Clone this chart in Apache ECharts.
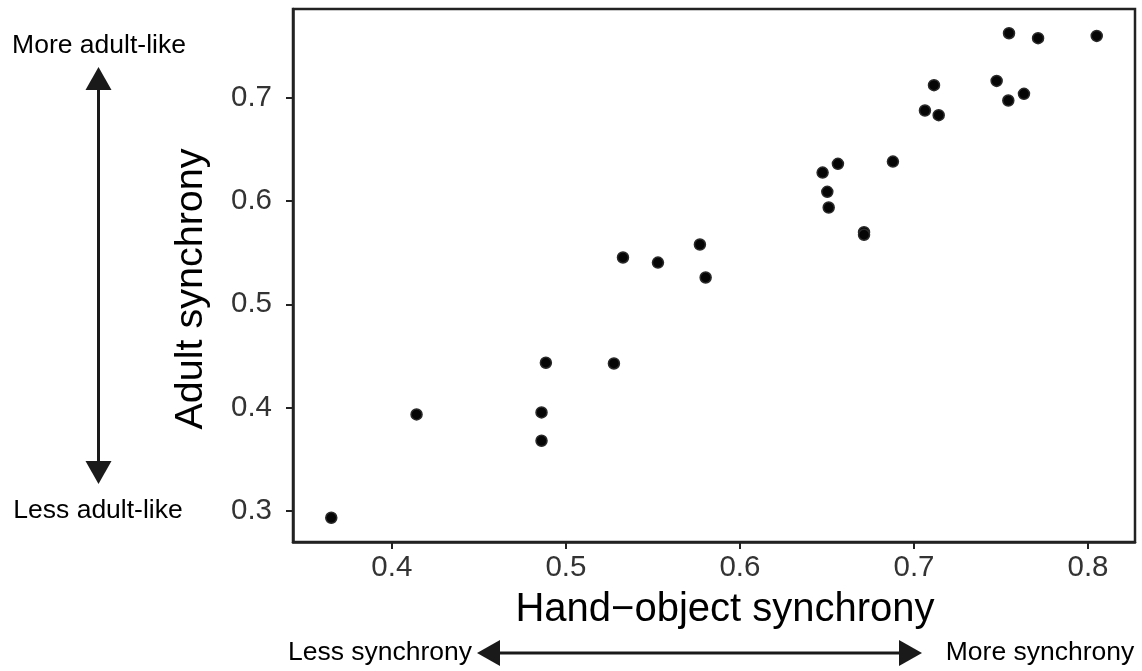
<!DOCTYPE html>
<html>
<head>
<meta charset="utf-8">
<script src="https://cdn.jsdelivr.net/npm/echarts@6/dist/echarts.min.js"></script>
<style>
html,body{margin:0;padding:0;background:#fff;}
#chart{width:1142px;height:671px;}
</style>
</head>
<body>
<div id="chart"></div>
<script>
// Data
var handObject = [0.3652,0.4142,0.4860,0.4860,0.4885,0.5276,0.5328,0.5529,0.5770,0.5803,
                  0.6475,0.6502,0.6510,0.6563,0.6713,0.6713,0.6879,0.7063,0.7115,0.7142,
                  0.7475,0.7542,0.7546,0.7632,0.7713,0.8050];
var adult      = [0.2929,0.3932,0.3676,0.3951,0.4433,0.4426,0.5454,0.5405,0.5580,0.5260,
                  0.6278,0.6091,0.5939,0.6363,0.5700,0.5675,0.6385,0.6880,0.7126,0.6835,
                  0.7167,0.6977,0.7630,0.7042,0.7582,0.7604];
var xTicks = [0.4,0.5,0.6,0.7,0.8];
var yTicks = [0.3,0.4,0.5,0.6,0.7];
var xTitle = 'Hand\u2212object synchrony';
var yTitle = 'Adult synchrony';
var yTopLabel = 'More adult-like';
var yBottomLabel = 'Less adult-like';
var xLeftLabel = 'Less synchrony';
var xRightLabel = 'More synchrony';

function expand(arr){
  var mn = Math.min.apply(null, arr), mx = Math.max.apply(null, arr);
  var p = (mx - mn) * 0.05;
  return [mn - p, mx + p];
}
var xr = expand(handObject), yr = expand(adult);
var points = handObject.map(function(x,i){return [x, adult[i]];});

var FONT = '"Liberation Sans", Arial, Helvetica, sans-serif';
var chart = echarts.init(document.getElementById('chart'));
var ink = '#1a1a1a';

function tri(cx, cy, dir){
  var L = 23, H = 13;
  if (dir==='up') return [[cx,cy],[cx-H,cy+L],[cx+H,cy+L]];
  if (dir==='down') return [[cx,cy],[cx-H,cy-L],[cx+H,cy-L]];
  if (dir==='left') return [[cx,cy],[cx+L,cy-H],[cx+L,cy+H]];
  return [[cx,cy],[cx-L,cy-H],[cx-L,cy+H]];
}

chart.setOption({
  animation:false,
  backgroundColor:'#fff',
  grid:{left:293, right:7, top:9, bottom:129, show:true, borderColor:'#222', borderWidth:2.5, containLabel:false},
  xAxis:{
    type:'value', min:xr[0], max:xr[1],
    axisLine:{show:true, lineStyle:{color:'#222', width:2.5}},
    axisTick:{show:true, length:7, customValues:xTicks, lineStyle:{color:'#222', width:2}},
    axisLabel:{show:true, customValues:xTicks, margin:11, fontSize:29.5, fontFamily:FONT, color:'#333',
      formatter:function(v){return v.toFixed(1);}},
    splitLine:{show:false}
  },
  yAxis:{
    type:'value', min:yr[0], max:yr[1],
    axisLine:{show:true, lineStyle:{color:'#222', width:2.5}},
    axisTick:{show:true, length:7, customValues:yTicks, lineStyle:{color:'#222', width:2}},
    axisLabel:{show:true, customValues:yTicks, margin:21, fontSize:29.5, fontFamily:FONT, color:'#333',
      formatter:function(v){return v.toFixed(1);}},
    splitLine:{show:false}
  },
  series:[{
    type:'scatter',
    data:points,
    symbol:'circle',
    symbolSize:11,
    itemStyle:{color:'#050505', borderColor:'#2a2a2a', borderWidth:1.5, opacity:1}
  }],
  graphic:[
    {type:'text', x:725, y:610, style:{text:xTitle, font:'40px '+FONT, fill:'#000', align:'center', verticalAlign:'middle'}},
    {type:'text', x:191, y:289, rotation:Math.PI/2, style:{text:yTitle, font:'39.5px '+FONT, fill:'#000', align:'center', verticalAlign:'middle'}},
    {type:'text', x:99, y:46, style:{text:yTopLabel, font:'26.5px '+FONT, fill:'#000', align:'center', verticalAlign:'middle'}},
    {type:'text', x:98, y:511, style:{text:yBottomLabel, font:'26.5px '+FONT, fill:'#000', align:'center', verticalAlign:'middle'}},
    {type:'text', x:380, y:653, style:{text:xLeftLabel, font:'26.5px '+FONT, fill:'#000', align:'center', verticalAlign:'middle'}},
    {type:'text', x:1040, y:653, style:{text:xRightLabel, font:'26.5px '+FONT, fill:'#000', align:'center', verticalAlign:'middle'}},
    {type:'line', shape:{x1:98.5, y1:88, x2:98.5, y2:464}, style:{stroke:ink, lineWidth:3}},
    {type:'polygon', shape:{points:tri(98.5,67,'up')}, style:{fill:ink}},
    {type:'polygon', shape:{points:tri(98.5,484,'down')}, style:{fill:ink}},
    {type:'line', shape:{x1:498, y1:653, x2:901, y2:653}, style:{stroke:ink, lineWidth:3}},
    {type:'polygon', shape:{points:tri(477,653,'left')}, style:{fill:ink}},
    {type:'polygon', shape:{points:tri(922,653,'right')}, style:{fill:ink}}
  ]
});
</script>
</body>
</html>
